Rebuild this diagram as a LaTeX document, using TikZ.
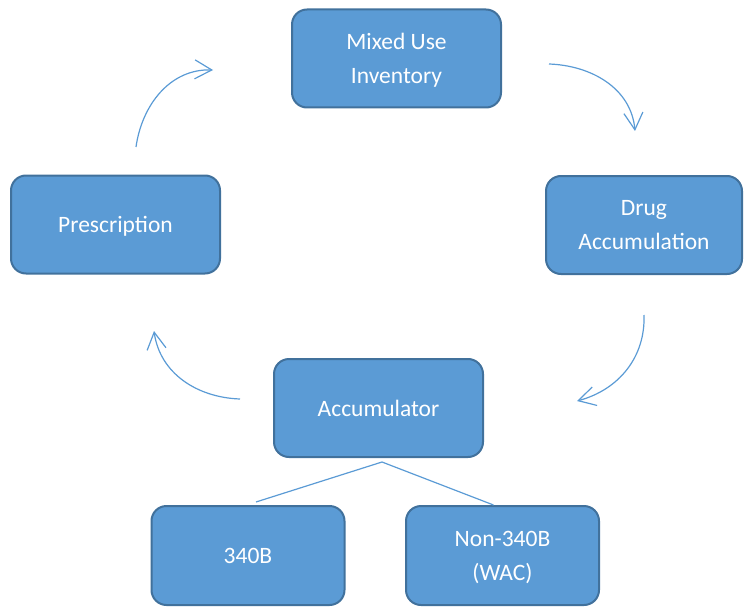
\documentclass[tikz,border=0pt]{standalone}
\usepackage{fontspec}
\setmainfont{Carlito}
\usetikzlibrary{arrows.meta}

\definecolor{boxfill}{HTML}{5B9BD5}
\definecolor{boxline}{HTML}{41719C}

\begin{document}
\begin{tikzpicture}[x=1pt,y=1pt,
	box/.style={rectangle,rounded corners=15pt,draw=boxline,line width=2pt,fill=boxfill,
		text=white,align=center,font=\fontsize{23.5}{34}\selectfont,text depth=0pt,
		minimum width=209pt,minimum height=98pt,inner sep=0pt},
	cycle/.style={color=boxfill,line width=1.2pt,-{Straight Barb[length=17pt,width=19pt,line width=1.2pt]}},
	link/.style={color=boxfill,line width=1.2pt}]

\useasboundingbox (0,0) rectangle (744,-607);

\node[box]   (mixed)   at (396.5,-58.5)   {Mixed Use\\Inventory};
\node[box,minimum width=196pt]   (drug)   at (644,-225)   {Drug\\Accumulation};
\node[box]   (acc)   at (378.5,-408)   {Accumulator};
\node[box]   (presc)   at (115.5,-224.5)   {Prescription};
\node[box,minimum width=193pt,minimum height=99pt]   (b340)   at (248,-555.5)   {340B};
\node[box,minimum width=193pt,minimum height=99pt]   (wac)   at (502.5,-555.5)   {Non-340B\\(WAC)};

\coordinate (c1s) at (136,-147);
\coordinate (c1e) at (213,-70);
\coordinate (c2s) at (549,-64);
\coordinate (c2e) at (635,-131);
\coordinate (c3s) at (644,-315);
\coordinate (c3e) at (577,-401);
\coordinate (c4s) at (240,-399);
\coordinate (c4e) at (154,-331);
\coordinate (split) at (382,-462);

	\path[cycle] (c1s)  edge[out=82,in=178]  (c1e)
						(c2s)  edge[out=-2,in=95]  (c2e)
						(c3s)  edge[out=-88,in=15]  (c3e)
						(c4s)  edge[out=178,in=-82]  (c4e);

	\path[link] (split)  edge  ([xshift=8pt,yshift=3pt]b340.north)
						(split)  edge  ([xshift=-9pt]wac.north);
	\end{tikzpicture}
\end{document}
